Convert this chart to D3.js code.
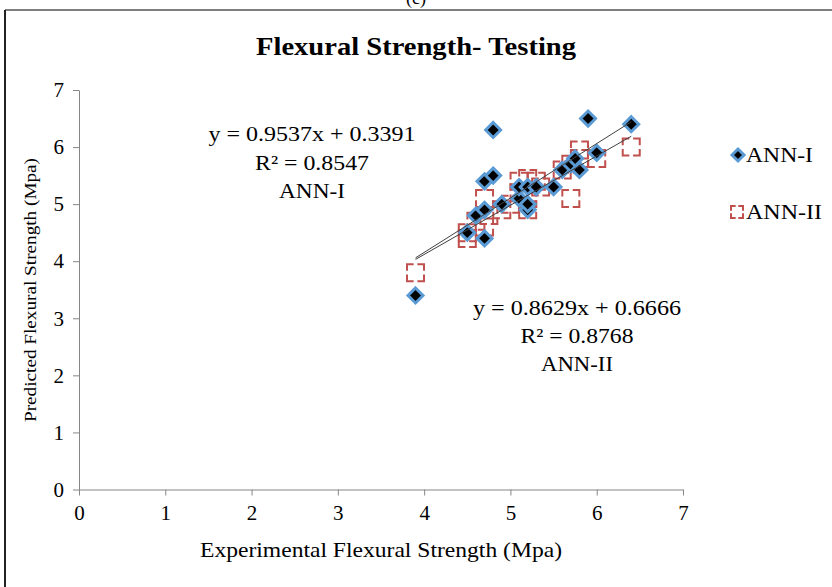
<!DOCTYPE html>
<html><head><meta charset="utf-8">
<script src="https://cdn.jsdelivr.net/npm/d3@7"></script>
<style>body{margin:0;background:#fff}svg{display:block}text{font-family:"Liberation Serif","Times New Roman",serif}</style>
</head><body>
<svg id="c" width="832" height="587"></svg>
<script>
// ---- data ----
const ann1X = [3.9, 4.5, 4.6, 4.7, 4.7, 4.7, 4.8, 4.8, 4.9, 5.1, 5.1, 5.2, 5.2, 5.2, 5.3, 5.5, 5.6, 5.7, 5.8, 5.75, 5.9, 6.0, 6.4];
const ann1Y = [3.4, 4.5, 4.8, 4.4, 4.9, 5.4, 5.5, 6.3, 5.0, 5.1, 5.3, 4.9, 5.0, 5.3, 5.3, 5.3, 5.6, 5.7, 5.6, 5.8, 6.5, 5.9, 6.4];
const ann2X = [3.9, 4.5, 4.5, 4.6, 4.7, 4.7, 4.75, 4.9, 5.0, 5.1, 5.1, 5.2, 5.2, 5.2, 5.3, 5.35, 5.6, 5.7, 5.7, 5.8, 5.8, 6.0, 6.4];
const ann2Y = [3.8, 4.4, 4.5, 4.7, 4.6, 5.1, 4.8, 4.9, 5.0, 5.2, 5.4, 4.9, 5.1, 5.45, 5.4, 5.3, 5.6, 5.1, 5.7, 5.8, 5.95, 5.8, 6.0];
const fit1 = [0.9537, 0.3391];
const fit2 = [0.8629, 0.6666];
const xTicks = [0, 1, 2, 3, 4, 5, 6, 7];
const yTicks = [0, 1, 2, 3, 4, 5, 6, 7];
const seriesNames = ["ANN-I", "ANN-II"];
const eq1 = ["y = 0.9537x + 0.3391", "R² = 0.8547", "ANN-I"];
const eq2 = ["y = 0.8629x + 0.6666", "R² = 0.8768", "ANN-II"];

const svg = d3.select("#c");
const x = d3.scaleLinear().domain([0, 7]).range([79, 683]);
const y = d3.scaleLinear().domain([0, 7]).range([489.5, 90]);
const axisCol = "#868686";

function txt(xp, yp, s, size, len, anchor) {
  const t = svg.append("text").attr("x", xp).attr("y", yp).attr("text-anchor", anchor || "middle")
    .attr("font-size", size).text(s);
  if (len) t.attr("textLength", len).attr("lengthAdjust", "spacingAndGlyphs");
  return t;
}

// outer frame
svg.append("text").attr("x", 416).attr("y", 4).attr("text-anchor", "middle").attr("font-size", 18).text("(c)");
svg.append("line").attr("x1", 5).attr("x2", 832).attr("y1", 10).attr("y2", 10).attr("stroke", "#7f7f7f").attr("stroke-width", 2);
svg.append("line").attr("x1", 5).attr("x2", 5).attr("y1", 10).attr("y2", 587).attr("stroke", "#222").attr("stroke-width", 2);

// title
txt(416, 55, "Flexural Strength- Testing", 26, 320).attr("font-weight", "bold");

// axes
const gx = svg.append("g").attr("transform", `translate(0,${y(0)})`)
  .call(d3.axisBottom(x).tickValues(xTicks).tickSize(6).tickSizeOuter(0).tickPadding(10).tickFormat(d3.format("d")));
const gy = svg.append("g").attr("transform", `translate(${x(0)},0)`)
  .call(d3.axisLeft(y).tickValues(yTicks).tickSize(6).tickSizeOuter(0).tickPadding(9).tickFormat(d3.format("d")));
[gx, gy].forEach(g => {
  g.selectAll("path,line").attr("stroke", axisCol);
  g.selectAll("text").attr("font-size", 21).attr("fill", "#000").attr("font-family", "Liberation Serif");
});

// axis titles
txt(381, 557, "Experimental Flexural Strength (Mpa)", 21, 362);
svg.append("text").attr("transform", "translate(36,290) rotate(-90)").attr("text-anchor", "middle").attr("font-size", 17)
  .attr("textLength", 264).attr("lengthAdjust", "spacingAndGlyphs")
  .text("Predicted Flexural Strength (Mpa)");

// trendlines
function trend(fit, xs) {
  const x0 = d3.min(xs), x1 = d3.max(xs);
  svg.append("line").attr("x1", x(x0)).attr("y1", y(fit[0] * x0 + fit[1]))
    .attr("x2", x(x1)).attr("y2", y(fit[0] * x1 + fit[1]))
    .attr("stroke", "#404040").attr("stroke-width", 1);
}

// markers
function square(g, cx, cy, s) {
  const h = s / 2;
  g.append("path").attr("d", `M${cx - h},${cy - h}H${cx + h}V${cy + h}H${cx - h}Z`)
    .attr("fill", "none").attr("stroke", "#c0504d").attr("stroke-width", 2)
    .attr("stroke-dasharray", `${s * 0.78},${s * 0.22}`).attr("stroke-dashoffset", s * 0.39);
}
function diamond(g, cx, cy, r) {
  g.append("path").attr("d", `M${cx},${cy - r}L${cx + r},${cy}L${cx},${cy + r}L${cx - r},${cy}Z`)
    .attr("fill", "#000").attr("stroke", "#5b9bd5").attr("stroke-width", 3).attr("stroke-linejoin", "miter");
}

const g2 = svg.append("g");
ann2X.forEach((v, i) => square(g2, x(v), y(ann2Y[i]), 17));
const g1 = svg.append("g");
ann1X.forEach((v, i) => diamond(g1, x(v), y(ann1Y[i]), 7.5));

trend(fit1, ann1X);
trend(fit2, ann2X);

// equations
const eqLen1 = [207, 114, 66], eqLen2 = [208, 113, 72];
eq1.forEach((t, i) => txt(312, 141 + i * 28.5, t, 21, eqLen1[i]));
eq2.forEach((t, i) => txt(577, 315 + i * 28, t, 21, eqLen2[i]));

// legend
const lg = svg.append("g");
diamond(lg, 738, 155, 6);
square(lg, 737, 212, 12);
txt(746, 162, seriesNames[0], 21, 67, "start");
txt(746, 219, seriesNames[1], 21, 76, "start");
</script>
</body></html>
